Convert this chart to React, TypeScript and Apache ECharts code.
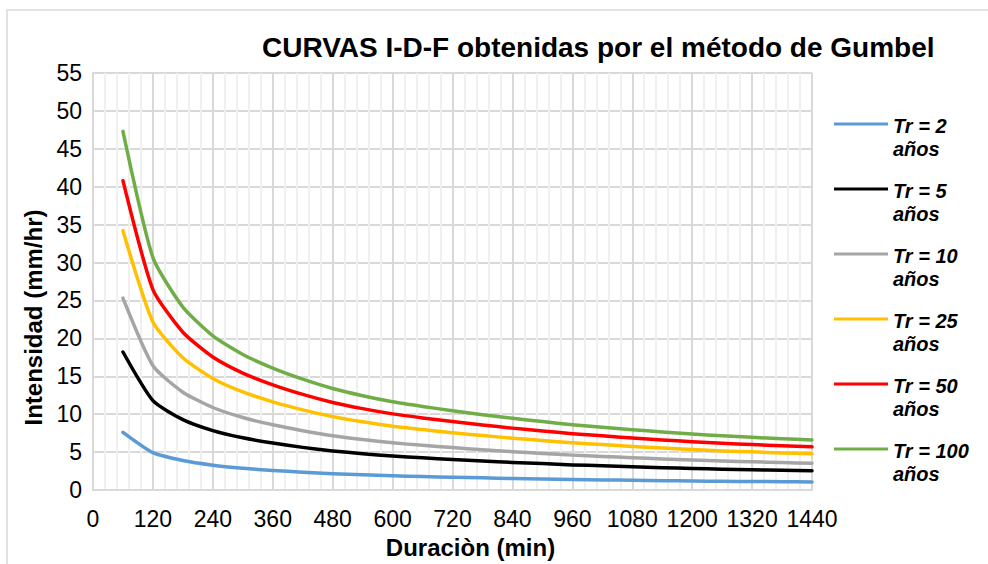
import React, { useEffect, useRef } from "react";
import * as echarts from "echarts";

const durations = [60, 120, 180, 240, 300, 360, 420, 480, 540, 600, 660, 720, 780, 840, 900, 960, 1020, 1080, 1140, 1200, 1260, 1320, 1380, 1440];

const tr2 = [7.6, 4.92, 3.88, 3.27, 2.87, 2.58, 2.35, 2.15, 2.0, 1.87, 1.77, 1.68, 1.6, 1.52, 1.45, 1.38, 1.33, 1.28, 1.23, 1.19, 1.15, 1.12, 1.09, 1.06];
const tr5 = [18.2, 11.79, 9.28, 7.83, 6.88, 6.19, 5.62, 5.15, 4.79, 4.48, 4.24, 4.02, 3.82, 3.64, 3.48, 3.31, 3.19, 3.06, 2.95, 2.84, 2.75, 2.68, 2.6, 2.54];
const tr10 = [25.3, 16.39, 12.9, 10.88, 9.56, 8.6, 7.82, 7.16, 6.65, 6.22, 5.89, 5.59, 5.31, 5.06, 4.83, 4.6, 4.43, 4.25, 4.1, 3.95, 3.82, 3.72, 3.62, 3.53];
const tr25 = [34.2, 22.16, 17.44, 14.71, 12.93, 11.63, 10.57, 9.68, 8.99, 8.41, 7.97, 7.56, 7.18, 6.84, 6.53, 6.22, 5.99, 5.75, 5.54, 5.34, 5.16, 5.03, 4.89, 4.77];
const tr50 = [40.8, 26.44, 20.81, 17.54, 15.42, 13.87, 12.61, 11.55, 10.73, 10.04, 9.51, 9.02, 8.57, 8.16, 7.79, 7.43, 7.14, 6.85, 6.61, 6.36, 6.16, 6.0, 5.83, 5.69];
const tr100 = [47.3, 30.65, 24.12, 20.34, 17.88, 16.08, 14.62, 13.39, 12.44, 11.64, 11.02, 10.45, 9.93, 9.46, 9.03, 8.61, 8.28, 7.95, 7.66, 7.38, 7.14, 6.95, 6.76, 6.6];

const seriesNames = ["Tr = 2 años", "Tr = 5 años", "Tr = 10 años", "Tr = 25 años", "Tr = 50 años", "Tr = 100 años"];
const seriesValues = [tr2, tr5, tr10, tr25, tr50, tr100];
const seriesColors = ["#5B9BD5", "#000000", "#A5A5A5", "#FFC000", "#FF0000", "#70AD47"];

const FONT = "'Liberation Sans', Arial, sans-serif";

export default function App() {
  const ref = useRef<HTMLDivElement>(null);
  useEffect(() => {
    if (!ref.current) return;
    const chart = echarts.init(ref.current, undefined, { renderer: "svg" });
    chart.setOption({
      animation: false,
      backgroundColor: "#ffffff",
      textStyle: { fontFamily: FONT },
      title: {
        text: "CURVAS I-D-F obtenidas por el método de Gumbel",
        left: 262,
        top: 33,
        padding: 0,
        textStyle: { fontSize: 28, fontWeight: "bold", color: "#000", fontFamily: FONT },
      },
      graphic: [
        {
          type: "rect",
          shape: { x: 7, y: 10, width: 1000, height: 600 },
          style: { fill: "none", stroke: "#d9d9d9", lineWidth: 1.5 },
          silent: true,
        },
      ],
      legend: {
        orient: "vertical",
        left: 834,
        top: 87.5,
        padding: 0,
        itemGap: -8,
        itemWidth: 54,
        itemHeight: 3,
        icon: "rect",
        data: seriesNames,
        formatter: (name: string) => {
          const parts = name.split(" años");
          return "{t|" + parts[0] + "}\n{t|años}";
        },
        textStyle: {
          fontSize: 20,
          fontWeight: "bold",
          fontStyle: "italic",
          color: "#000",
          fontFamily: FONT,
          padding: [27, 0, 0, 0],
          backgroundColor: "rgba(0,0,0,0)",
          rich: {
            t: {
              fontSize: 20,
              fontWeight: "bold",
              fontStyle: "italic",
              color: "#000",
              fontFamily: FONT,
              lineHeight: 23,
            },
          },
        },
      },
      grid: { left: 93, right: 176, top: 73, bottom: 65, containLabel: false },
      xAxis: {
        type: "value",
        min: 0,
        max: 1440,
        interval: 120,
        name: "Duraciòn (min)",
        nameLocation: "middle",
        nameGap: 45,
        nameTextStyle: { fontSize: 24, fontWeight: "bold", color: "#000", fontFamily: FONT, padding: [0, 0, 0, 36] },
        axisLine: { show: true, lineStyle: { color: "#d9d9d9", width: 2 } },
        axisTick: { show: false },
        axisLabel: { fontSize: 23, color: "#000", margin: 17, fontFamily: FONT, formatter: (v: number) => String(v) },
        splitLine: { show: true, lineStyle: { color: "#d9d9d9", width: 2 } },
        minorTick: { show: false, splitNumber: 5 },
        minorSplitLine: { show: true, lineStyle: { color: "#f0f0f0", width: 2 } },
      },
      yAxis: {
        type: "value",
        min: 0,
        max: 55,
        interval: 5,
        name: "Intensidad (mm/hr)",
        nameLocation: "middle",
        nameGap: 43,
        nameTextStyle: { fontSize: 24, fontWeight: "bold", color: "#000", fontFamily: FONT, padding: [0, 72, 0, 0] },
        axisLine: { show: true, lineStyle: { color: "#d9d9d9", width: 2 } },
        axisTick: { show: false },
        axisLabel: { fontSize: 23, color: "#000", margin: 11, fontFamily: FONT },
        splitLine: { show: true, lineStyle: { color: "#d9d9d9", width: 2 } },
      },
      series: seriesNames.map((name, i) => ({
        name,
        type: "line",
        data: durations.map((d, j) => [d, seriesValues[i][j]]),
        showSymbol: false,
        smooth: 0.2,
        lineStyle: { color: seriesColors[i], width: 3.5, cap: "round", join: "round" },
        itemStyle: { color: seriesColors[i] },
      })),
    });
    return () => chart.dispose();
  }, []);
  return <div ref={ref} style={{ position: "fixed", left: 0, top: 0, width: 988, height: 564 }} />;
}
